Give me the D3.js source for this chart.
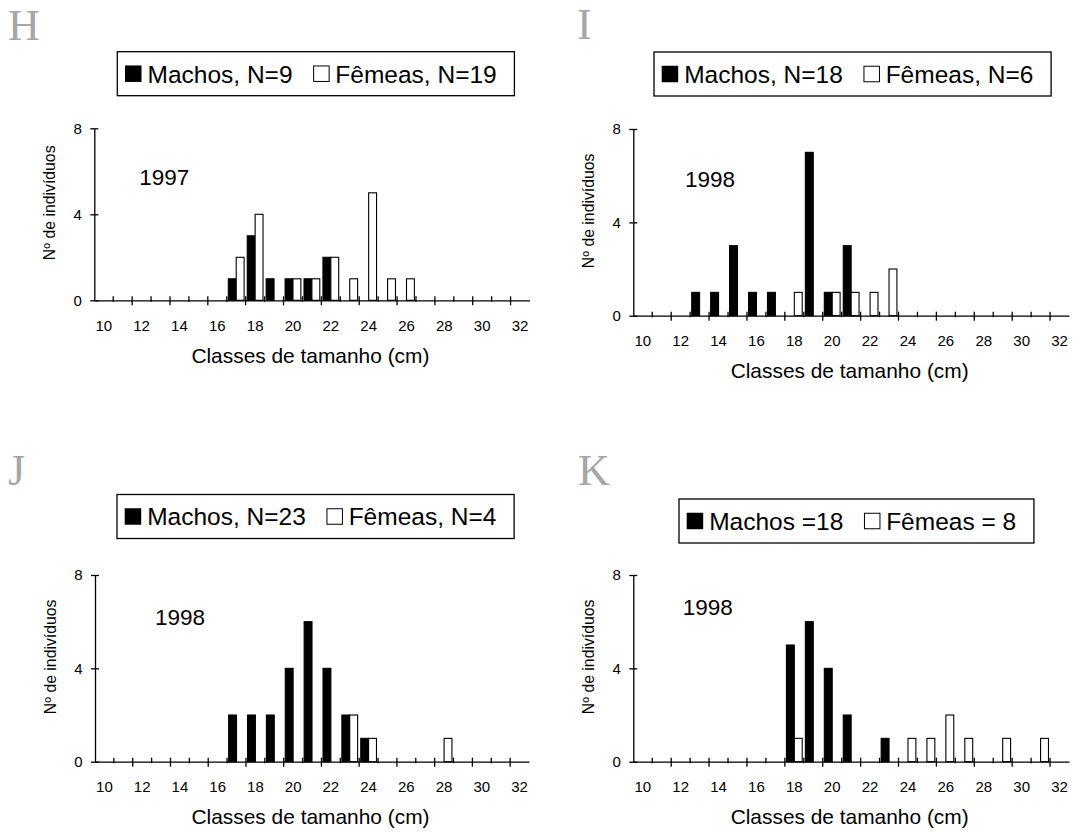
<!DOCTYPE html>
<html>
<head>
<meta charset="utf-8">
<script src="https://cdn.jsdelivr.net/npm/d3@7"></script>
<style>
  body { margin: 0; background: #fff; }
  text { font-family: "Liberation Sans", Arial, sans-serif; }
</style>
</head>
<body>
<div id="chart"></div>
<script>
// size classes (cm) on the x axis, and which ones get a label
const classes = [10,11,12,13,14,15,16,17,18,19,20,21,22,23,24,25,26,27,28,29,30,31,32];
const xLabels = [10,12,14,16,18,20,22,24,26,28,30,32];
const yTicks = [0, 4, 8];

// counts per class, one value per entry of `classes`
const machosH = [0,0,0,0,0,0,0,1,3,1,1,1,2,0,0,0,0,0,0,0,0,0,0];
const femeasH = [0,0,0,0,0,0,0,2,4,0,1,1,2,1,5,1,1,0,0,0,0,0,0];
const machosI = [0,0,0,1,1,3,1,1,0,7,1,3,0,0,0,0,0,0,0,0,0,0,0];
const femeasI = [0,0,0,0,0,0,0,0,1,0,1,1,1,2,0,0,0,0,0,0,0,0,0];
const machosJ = [0,0,0,0,0,0,0,2,2,2,4,6,4,2,1,0,0,0,0,0,0,0,0];
const femeasJ = [0,0,0,0,0,0,0,0,0,0,0,0,0,2,1,0,0,0,1,0,0,0,0];
const machosK = [0,0,0,0,0,0,0,0,5,6,4,2,0,1,0,0,0,0,0,0,0,0,0];
const femeasK = [0,0,0,0,0,0,0,0,1,0,0,0,0,0,1,1,2,1,0,1,0,1,0];

const legendH = ["Machos, N=9", "Fêmeas, N=19"];
const legendI = ["Machos, N=18", "Fêmeas, N=6"];
const legendJ = ["Machos, N=23", "Fêmeas, N=4"];
const legendK = ["Machos =18", "Fêmeas = 8"];

const yTitle = "Nº de indivíduos";
const xTitle = "Classes de tamanho (cm)";

// panel layout
const panels = [
  { letter: "H", lx: 8, ly: 40, year: "1997", machos: machosH, femeas: femeasH, legend: legendH,
    x0: 94.3, x1: 529.5, yTop: 128.3, yZero: 300.3, yearX: 139.3, yearY: 185, boxX: 117.3, boxY: 51.7 },
  { letter: "I", lx: 577, ly: 39, year: "1998", machos: machosI, femeas: femeasI, legend: legendI,
    x0: 633.3, x1: 1069, yTop: 129, yZero: 315.7, yearX: 685, yearY: 186.7, boxX: 654, boxY: 52 },
  { letter: "J", lx: 8, ly: 485, year: "1998", machos: machosJ, femeas: femeasJ, legend: legendJ,
    x0: 95, x1: 529, yTop: 575, yZero: 761.7, yearX: 155, yearY: 625, boxX: 117, boxY: 494.5 },
  { letter: "K", lx: 578, ly: 485, year: "1998", machos: machosK, femeas: femeasK, legend: legendK,
    x0: 633.3, x1: 1069, yTop: 575, yZero: 761.7, yearX: 682.7, yearY: 615, boxX: 679, boxY: 499 }
];

const svg = d3.select("#chart").append("svg")
  .attr("width", 1076)
  .attr("height", 832)
  .style("background", "#fff");

function drawPanel(p) {
  const g = svg.append("g");

  const x = d3.scaleBand().domain(classes).range([p.x0, p.x1]).padding(0);
  const sub = d3.scaleBand().domain(["m", "f"]).range([0, x.bandwidth()])
    .paddingInner(0).paddingOuter(0.2);
  const y = d3.scaleLinear().domain([0, 8]).range([p.yZero, p.yTop]);

  const rows = classes.map((c, i) => ({ c: c, m: p.machos[i], f: p.femeas[i] }));

  // bars
  g.selectAll(".bm").data(rows.filter(d => d.m > 0)).join("rect")
    .attr("class", "bm")
    .attr("x", d => x(d.c) + sub("m"))
    .attr("y", d => y(d.m))
    .attr("width", sub.bandwidth())
    .attr("height", d => y(0) - y(d.m))
    .attr("fill", "#000")
    .attr("stroke", "#000")
    .attr("stroke-width", 1.1);

  g.selectAll(".bf").data(rows.filter(d => d.f > 0)).join("rect")
    .attr("class", "bf")
    .attr("x", d => x(d.c) + sub("f"))
    .attr("y", d => y(d.f))
    .attr("width", sub.bandwidth())
    .attr("height", d => y(0) - y(d.f))
    .attr("fill", "#fff")
    .attr("stroke", "#000")
    .attr("stroke-width", 1.1);

  // y axis, ticks cross the line
  const ya = g.append("g")
    .attr("transform", "translate(" + p.x0 + ",0)")
    .call(d3.axisLeft(y).tickValues(yTicks).tickSizeInner(4).tickSizeOuter(0).tickPadding(8.4));
  ya.selectAll(".tick line").attr("x1", 4).attr("stroke-width", 1.3);
  ya.select(".domain").attr("stroke-width", 1.3);
  ya.selectAll("text").style("font-size", "15px").attr("fill", "#000");

  // x axis: labels centred in the classes, ticks on class boundaries
  const xa = g.append("g")
    .attr("transform", "translate(0," + p.yZero + ")")
    .call(d3.axisBottom(x).tickValues(xLabels).tickSize(0).tickPadding(20));
  xa.select(".domain").attr("stroke-width", 1.3);
  xa.selectAll("text").style("font-size", "15px").attr("fill", "#000");
  xa.selectAll(".bound").data(classes.slice(1)).join("line")
    .attr("class", "bound")
    .attr("x1", d => x(d)).attr("x2", d => x(d))
    .attr("y1", -4)
    .attr("y2", d => d % 2 === 0 ? 5 : 1.5)
    .attr("stroke", "#000")
    .attr("stroke-width", 1.3);

  // titles
  g.append("text")
    .attr("x", (p.x0 + p.x1) / 2 - 1.5)
    .attr("y", p.yZero + 62.5)
    .attr("text-anchor", "middle")
    .style("font-size", "20.9px")
    .text(xTitle);

  g.append("text")
    .attr("transform", "translate(" + (p.x0 - 39.5) + "," + ((p.yTop + p.yZero) / 2 - 11.5) + ") rotate(-90)")
    .attr("text-anchor", "middle")
    .style("font-size", "15.8px")
    .text(yTitle);

  g.append("text")
    .attr("x", p.yearX)
    .attr("y", p.yearY)
    .style("font-size", "22.5px")
    .text(p.year);

  // panel letter
  svg.append("text")
    .attr("x", p.lx)
    .attr("y", p.ly)
    .style("font-family", "'Liberation Serif', 'Times New Roman', serif")
    .style("font-size", "44px")
    .attr("fill", "#a6a6a6")
    .text(p.letter);

  // legend box
  const boxH = 44, sq = 16.5, fs = 24.5;
  const lg = svg.append("g").attr("transform", "translate(" + p.boxX + "," + p.boxY + ")");
  const box = lg.append("rect")
    .attr("x", 0).attr("y", 0).attr("height", boxH)
    .attr("fill", "#fff").attr("stroke", "#000").attr("stroke-width", 1.3);
  let cx = 7.7;
  const cy = boxH / 2;
  lg.append("rect")
    .attr("x", cx).attr("y", cy - sq / 2).attr("width", sq).attr("height", sq)
    .attr("fill", "#000");
  cx += sq + 6;
  const t1 = lg.append("text").attr("x", cx).attr("y", cy + fs * 0.36)
    .style("font-size", fs + "px").text(p.legend[0]);
  cx += t1.node().getComputedTextLength() + 20.6;
  lg.append("rect")
    .attr("x", cx + 0.5).attr("y", cy - sq / 2 + 0.5).attr("width", sq - 1).attr("height", sq - 1)
    .attr("fill", "#fff").attr("stroke", "#000").attr("stroke-width", 1);
  cx += sq + 5.7;
  const t2 = lg.append("text").attr("x", cx).attr("y", cy + fs * 0.36)
    .style("font-size", fs + "px").text(p.legend[1]);
  cx += t2.node().getComputedTextLength() + 17.7;
  box.attr("width", cx);
}

panels.forEach(drawPanel);
</script>
</body>
</html>
